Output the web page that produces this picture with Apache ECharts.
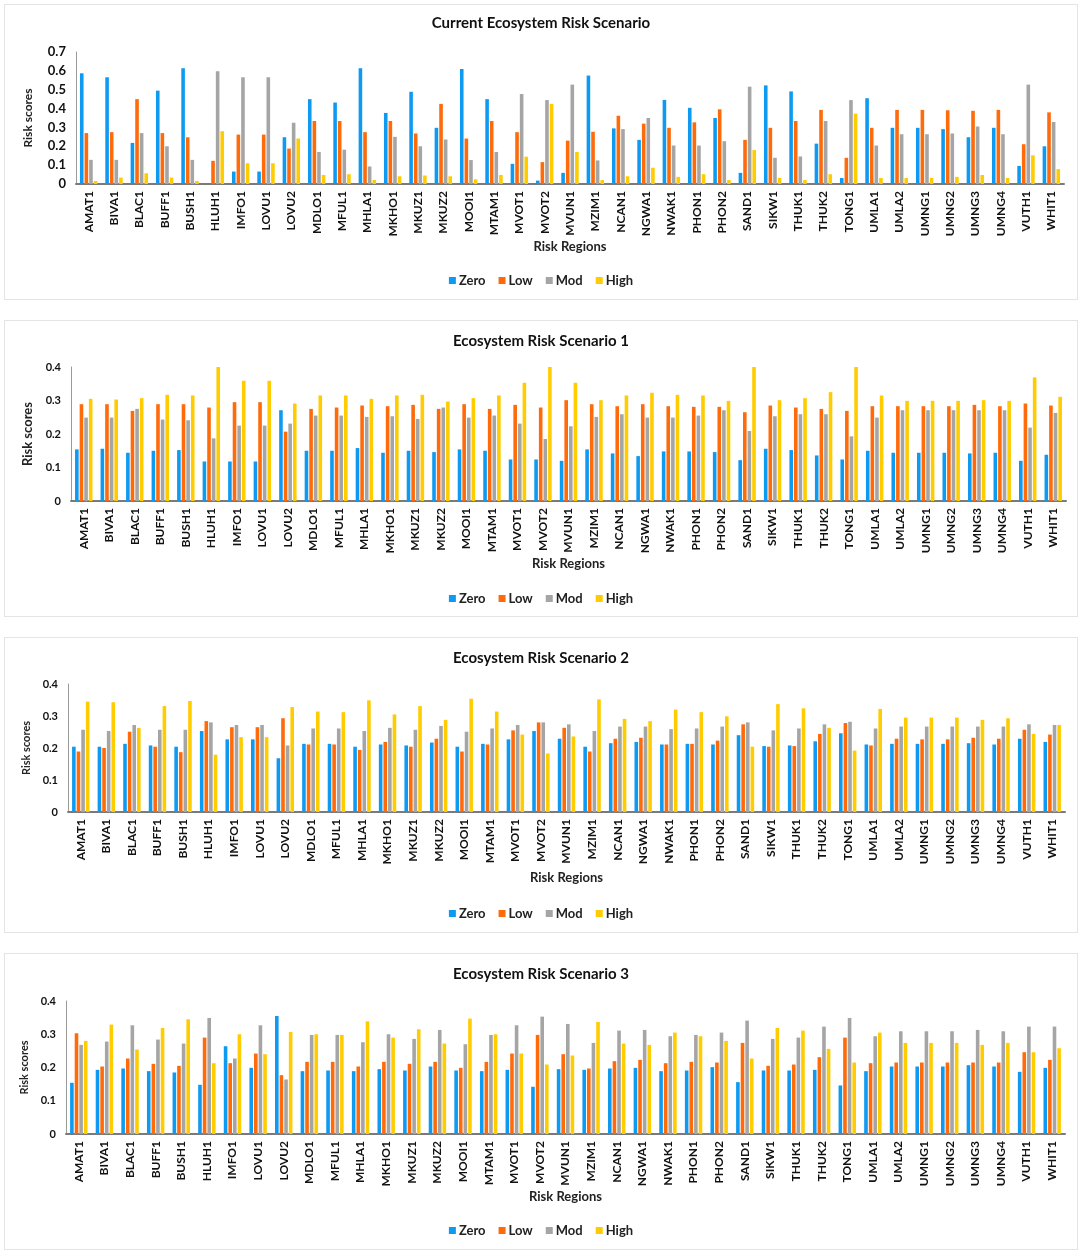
<!DOCTYPE html>
<html>
<head>
<meta charset="utf-8">
<script src="https://cdn.jsdelivr.net/npm/echarts@6/dist/echarts.min.js"></script>
<style>
  html, body { margin: 0; padding: 0; background: #fff; }
  body { width: 1084px; height: 1253px; position: relative; overflow: hidden; }
  .box { position: absolute; left: 4px; width: 1074px; border: 1px solid #e4e4e4; box-sizing: border-box; }
</style>
</head>
<body>
<div class="box" id="p1" style="top:4px;height:296px"></div>
<div class="box" id="p2" style="top:320px;height:297px"></div>
<div class="box" id="p3" style="top:637px;height:296px"></div>
<div class="box" id="p4" style="top:953px;height:297px"></div>
<script>
var regions = ['AMAT1','BIVA1','BLAC1','BUFF1','BUSH1','HLUH1','IMFO1','LOVU1','LOVU2','MDLO1',
  'MFUL1','MHLA1','MKHO1','MKUZ1','MKUZ2','MOOI1','MTAM1','MVOT1','MVOT2','MVUN1',
  'MZIM1','NCAN1','NGWA1','NWAK1','PHON1','PHON2','SAND1','SIKW1','THUK1','THUK2',
  'TONG1','UMLA1','UMLA2','UMNG1','UMNG2','UMNG3','UMNG4','VUTH1','WHIT1'];
var levels = ['Zero', 'Low', 'Mod', 'High'];
var colors = ['#0F9AF2', '#FF6A0A', '#A5A5A5', '#FFCC00'];

// Current ecosystem risk scenario
var curZero = [0.587,0.566,0.218,0.495,0.614,0.003,0.066,0.066,0.248,0.45,0.432,0.614,0.377,0.489,0.298,0.61,0.45,0.107,0.018,
  0.059,0.575,0.295,0.234,0.446,0.404,0.35,0.059,0.523,0.491,0.214,0.032,0.455,0.298,0.298,0.291,0.248,0.298,0.096,0.2];
var curLow = [0.27,0.275,0.45,0.27,0.248,0.123,0.262,0.262,0.188,0.334,0.334,0.275,0.334,0.268,0.425,0.241,0.334,0.275,0.116,
  0.23,0.277,0.362,0.32,0.298,0.327,0.396,0.234,0.298,0.334,0.393,0.139,0.298,0.393,0.393,0.391,0.388,0.393,0.211,0.38];
var curMod = [0.128,0.128,0.27,0.2,0.128,0.598,0.566,0.566,0.325,0.17,0.182,0.093,0.25,0.2,0.236,0.127,0.17,0.477,0.445,
  0.527,0.125,0.291,0.35,0.204,0.204,0.227,0.516,0.139,0.146,0.334,0.445,0.204,0.264,0.264,0.268,0.305,0.264,0.527,0.329];
var curHigh = [0.016,0.034,0.057,0.034,0.016,0.28,0.11,0.11,0.241,0.048,0.052,0.021,0.041,0.045,0.041,0.025,0.048,0.145,0.425,
  0.17,0.021,0.041,0.086,0.038,0.052,0.021,0.18,0.032,0.021,0.052,0.373,0.032,0.032,0.032,0.038,0.048,0.032,0.152,0.079];

// Scenario 1
var s1Zero = [0.154,0.156,0.144,0.15,0.152,0.118,0.118,0.118,0.271,0.15,0.15,0.158,0.144,0.15,0.146,0.154,0.15,0.124,0.124,
  0.12,0.154,0.142,0.134,0.148,0.148,0.146,0.122,0.156,0.152,0.136,0.124,0.15,0.144,0.144,0.144,0.142,0.144,0.12,0.138];
var s1Low = [0.289,0.289,0.269,0.289,0.289,0.279,0.295,0.295,0.207,0.275,0.279,0.285,0.283,0.287,0.275,0.289,0.275,0.287,0.279,
  0.301,0.289,0.283,0.289,0.283,0.281,0.281,0.265,0.285,0.279,0.275,0.269,0.283,0.283,0.283,0.283,0.287,0.283,0.291,0.285];
var s1Mod = [0.249,0.249,0.275,0.243,0.241,0.187,0.225,0.225,0.231,0.255,0.255,0.251,0.253,0.245,0.279,0.249,0.255,0.231,0.185,
  0.223,0.251,0.259,0.249,0.249,0.255,0.271,0.209,0.253,0.259,0.259,0.193,0.249,0.271,0.271,0.271,0.271,0.271,0.219,0.263];
var s1High = [0.305,0.303,0.307,0.317,0.315,0.4,0.359,0.359,0.291,0.315,0.315,0.305,0.315,0.317,0.297,0.307,0.315,0.353,0.4,
  0.353,0.301,0.315,0.323,0.317,0.315,0.299,0.4,0.301,0.307,0.325,0.4,0.315,0.299,0.299,0.299,0.301,0.299,0.369,0.311];

// Scenario 2
var s2Zero = [0.204,0.204,0.213,0.208,0.204,0.253,0.227,0.227,0.168,0.213,0.213,0.204,0.211,0.208,0.217,0.204,0.213,0.227,0.253,
  0.229,0.204,0.215,0.219,0.211,0.213,0.211,0.24,0.206,0.208,0.221,0.246,0.211,0.213,0.213,0.213,0.215,0.211,0.229,0.219];
var s2Low = [0.189,0.2,0.251,0.204,0.187,0.284,0.265,0.265,0.293,0.211,0.211,0.194,0.219,0.204,0.229,0.189,0.211,0.255,0.28,
  0.263,0.189,0.229,0.232,0.211,0.213,0.223,0.274,0.204,0.206,0.244,0.278,0.208,0.229,0.227,0.227,0.232,0.229,0.257,0.242];
var s2Mod = [0.257,0.253,0.272,0.257,0.257,0.28,0.272,0.272,0.208,0.261,0.261,0.253,0.263,0.257,0.269,0.251,0.261,0.272,0.28,
  0.274,0.253,0.267,0.267,0.259,0.261,0.267,0.28,0.255,0.261,0.274,0.282,0.261,0.267,0.267,0.267,0.267,0.267,0.274,0.272];
var s2High = [0.345,0.343,0.263,0.331,0.347,0.179,0.234,0.234,0.328,0.314,0.312,0.349,0.305,0.331,0.288,0.354,0.314,0.242,0.183,
  0.236,0.352,0.291,0.284,0.32,0.312,0.299,0.204,0.337,0.324,0.263,0.192,0.322,0.295,0.295,0.295,0.288,0.293,0.244,0.272];

// Scenario 3
var s3Zero = [0.154,0.193,0.197,0.189,0.185,0.148,0.264,0.199,0.355,0.189,0.191,0.189,0.195,0.191,0.203,0.191,0.189,0.193,0.142,
  0.195,0.193,0.197,0.199,0.189,0.191,0.201,0.156,0.191,0.191,0.193,0.146,0.189,0.203,0.203,0.203,0.207,0.203,0.187,0.199];
var s3Low = [0.303,0.203,0.227,0.211,0.205,0.29,0.213,0.242,0.177,0.217,0.217,0.203,0.217,0.211,0.217,0.199,0.217,0.242,0.298,
  0.24,0.197,0.219,0.223,0.213,0.217,0.215,0.274,0.205,0.209,0.231,0.29,0.213,0.215,0.215,0.215,0.215,0.215,0.246,0.223];
var s3Mod = [0.268,0.278,0.327,0.284,0.272,0.349,0.227,0.327,0.164,0.298,0.298,0.276,0.3,0.286,0.313,0.27,0.298,0.327,0.353,
  0.331,0.274,0.311,0.313,0.294,0.298,0.305,0.341,0.286,0.29,0.323,0.349,0.294,0.309,0.309,0.309,0.313,0.309,0.323,0.323];
var s3High = [0.28,0.329,0.254,0.319,0.345,0.213,0.3,0.24,0.307,0.3,0.298,0.339,0.29,0.315,0.272,0.347,0.3,0.242,0.209,
  0.236,0.337,0.272,0.268,0.305,0.294,0.28,0.227,0.319,0.311,0.256,0.215,0.305,0.274,0.274,0.274,0.268,0.274,0.246,0.258];

var FONT = 'Lato, "Liberation Sans", sans-serif';

// 画一个面板
function drawPanel(id, title, data, yMax, layout) {
  var chart = echarts.init(document.getElementById(id), null, { renderer: 'canvas' });
  var series = [];
  for (var i = 0; i < levels.length; i++) {
    series.push({
      name: levels[i],
      type: 'bar',
      barWidth: 3.6,
      barGap: '28%',
      itemStyle: { color: colors[i] },
      data: data[i]
    });
  }
  var option = {
    animation: false,
    textStyle: { fontFamily: FONT },
    title: {
      text: title,
      left: 'center',
      top: layout.titleTop,
      textStyle: { fontSize: 15, fontWeight: 'bold', color: '#111', fontFamily: FONT }
    },
    legend: {
      data: levels,
      left: 'center',
      top: layout.legendTop,
      icon: 'rect',
      itemWidth: 7,
      itemHeight: 7,
      itemGap: 13,
      textStyle: { fontSize: 13, fontWeight: 'bold', color: '#222', fontFamily: FONT, padding: [0, 0, 0, -2] }
    },
    grid: { left: layout.left, right: layout.right, top: layout.top, bottom: layout.bottom, containLabel: false },
    xAxis: {
      type: 'category',
      data: regions,
      name: 'Risk Regions',
      nameLocation: 'middle',
      nameGap: layout.xNameGap,
      nameTextStyle: { fontSize: 13, fontWeight: 'bold', color: '#222', fontFamily: FONT },
      axisLine: { lineStyle: { color: '#7a7a7a', width: 2 } },
      axisTick: { show: false },
      axisLabel: {
        rotate: 90, interval: 0, margin: 7,
        fontSize: 12, fontWeight: 'bold', color: '#111', fontFamily: FONT
      }
    },
    yAxis: {
      type: 'value',
      min: 0, max: yMax, interval: 0.1,
      name: 'Risk scores',
      nameLocation: 'middle',
      nameGap: layout.yNameGap,
      nameTextStyle: { fontSize: layout.yNameSize, fontWeight: 'bold', color: '#222', fontFamily: FONT },
      axisLine: { show: true, lineStyle: { color: '#9a9a9a', width: 1 } },
      axisTick: { show: false },
      splitLine: { show: false },
      axisLabel: {
        fontSize: layout.yLabelSize, fontWeight: 'bold', color: '#111', margin: 10, fontFamily: FONT,
        formatter: function (v) { return v === 0 ? '0' : (+v.toFixed(1)).toString(); }
      }
    },
    series: series
  };
  chart.setOption(option, true);
  return chart;
}

drawPanel('p1', 'Current Ecosystem Risk Scenario', [curZero, curLow, curMod, curHigh], 0.7,
  { titleTop: 6, legendTop: 264, left: 71, right: 13, top: 47, bottom: 115, xNameGap: 53, yNameGap: 42, yNameSize: 12, yLabelSize: 13 });
drawPanel('p2', 'Ecosystem Risk Scenario 1', [s1Zero, s1Low, s1Mod, s1High], 0.4,
  { titleTop: 8, legendTop: 266, left: 66, right: 11, top: 46, bottom: 115, xNameGap: 54, yNameGap: 34, yNameSize: 13, yLabelSize: 11 });
drawPanel('p3', 'Ecosystem Risk Scenario 2', [s2Zero, s2Low, s2Mod, s2High], 0.4,
  { titleTop: 8, legendTop: 264, left: 63, right: 12, top: 46, bottom: 120, xNameGap: 59, yNameGap: 32, yNameSize: 11, yLabelSize: 11 });
drawPanel('p4', 'Ecosystem Risk Scenario 3', [s3Zero, s3Low, s3Mod, s3High], 0.4,
  { titleTop: 8, legendTop: 265, left: 61, right: 12, top: 47, bottom: 115, xNameGap: 53, yNameGap: 29, yNameSize: 11, yLabelSize: 11 });
</script>
</body>
</html>
